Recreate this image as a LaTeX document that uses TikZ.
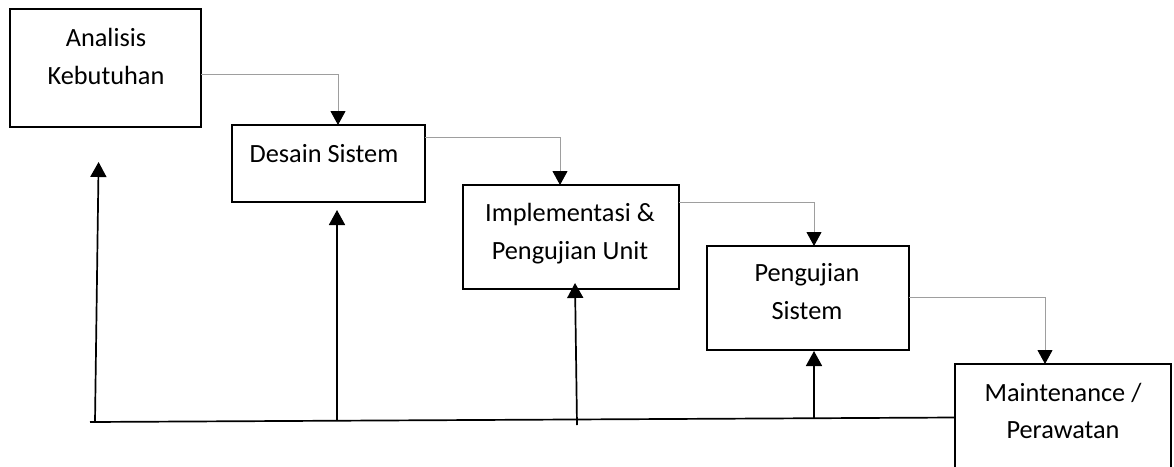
\documentclass[tikz,border=0pt]{standalone}
\usepackage{fontspec}
\setmainfont{Carlito}
\usetikzlibrary{arrows.meta}
\begin{document}
\begin{tikzpicture}[x=1pt,y=-1pt,
  stage/.style={draw=black,line width=1.5pt,fill=white,inner sep=0pt,outer sep=0pt},
  lbl/.style={anchor=base,inner sep=0pt,font=\fontsize{26.3}{30}\selectfont},
  conn/.style={draw=black!38,line width=0.9pt,
    -{Triangle[length=14pt,width=15pt,color=black]}},
  back/.style={draw=black,line width=1.7pt,
    -{Triangle[length=15pt,width=16pt,color=black]}},
  base/.style={draw=black,line width=1.7pt}]
\clip (0,0) rectangle (1174,466);
\fill[white] (0,0) rectangle (1174,466);

% the five stages of the waterfall
\node[stage,minimum width=191pt,minimum height=118pt] (b1) at (105.5,68) {};
\node[stage,minimum width=193pt,minimum height=77pt]  (b2) at (328.5,163.5) {};
\node[stage,minimum width=216pt,minimum height=104pt] (b3) at (571,237) {};
\node[stage,minimum width=202pt,minimum height=104pt] (b4) at (808,298) {};
\node[stage,minimum width=216pt,minimum height=116pt] (b5) at (1063,422) {};

% stage names
\node[lbl] (t1a) at (106,46)  {Analisis};
\node[lbl] (t1b) at (106,84)  {Kebutuhan};
\node[lbl] (t2a) at (324,162) {Desain Sistem};
\node[lbl] (t3a) at (570,221) {Implementasi \&};
\node[lbl] (t3b) at (570,259) {Pengujian Unit};
\node[lbl] (t4a) at (807,281) {Pengujian};
\node[lbl] (t4b) at (807,319) {Sistem};
\node[lbl] (t5a) at (1063,401) {Maintenance /};
\node[lbl] (t5b) at (1063,438) {Perawatan};

% downward flow between stages
\draw[conn] ([yshift=-6pt]b1.east) -| ([xshift=9.5pt]b2.north);
\draw[conn] ([yshift=26.5pt]b2.east) -| ([xshift=-11pt]b3.north);
\draw[conn] ([yshift=35pt]b3.east) -| ([xshift=6pt]b4.north);
\draw[conn] ([yshift=1pt]b4.east) -| ([xshift=-18pt]b5.north);

% feedback line and return arrows
\coordinate (r0) at (90,422);
\coordinate (f1) at (95,422);
\coordinate (f2) at (337,420.5);
\coordinate (f3) at (577,425);
\coordinate (f4) at (814,418.5);
\coordinate (u1) at (98.6,162);
\coordinate (u2) at (337,210);
\draw[base] (r0) -- ([yshift=4.5pt]b5.west);
\draw[back] (f1) -- (u1);
\draw[back] (f2) -- (u2);
\draw[back] (f3) -- ([xshift=4pt,yshift=6pt]b3.south);
\draw[back] (f4) -- ([xshift=6pt,yshift=-1pt]b4.south);
\end{tikzpicture}
\end{document}
